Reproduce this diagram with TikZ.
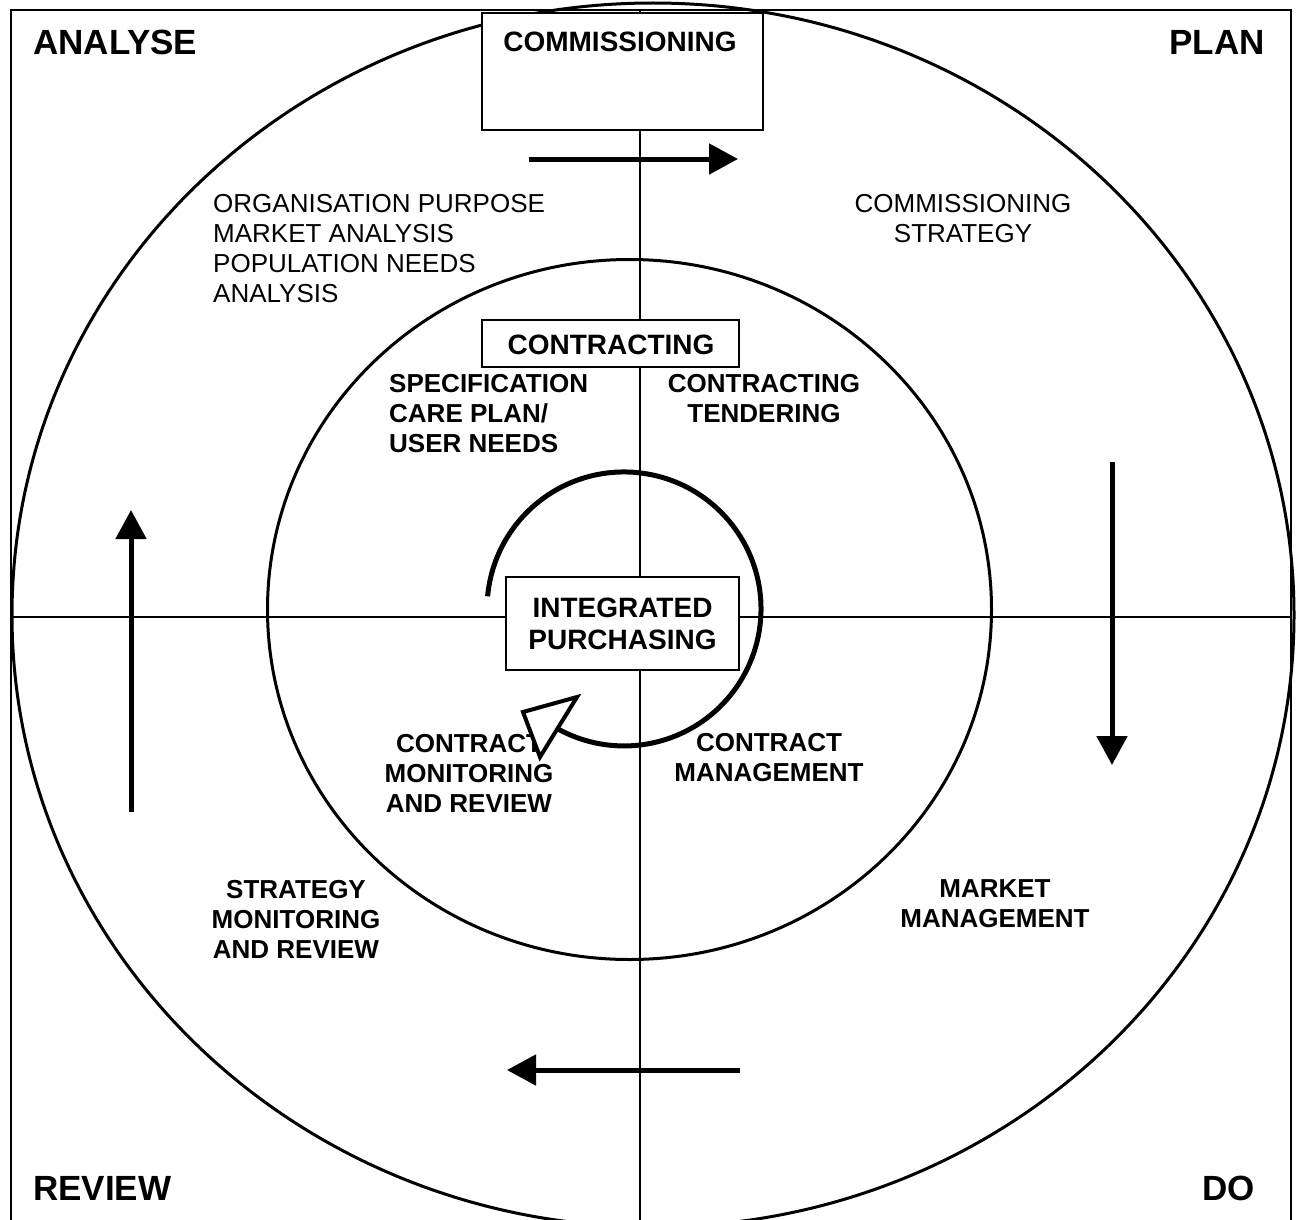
\documentclass[tikz,border=0pt]{standalone}
\usepackage{fontspec}
\setmainfont{Liberation Sans}
\usetikzlibrary{arrows.meta}
\tikzset{
  frame/.style={line width=2pt},
  ring/.style={line width=3pt},
  axis/.style={line width=2.2pt},
  box/.style={draw, line width=2pt, fill=white, inner sep=0pt},
  lbl/.style={font=\fontsize{26}{30}\selectfont, inner sep=0pt},
  blbl/.style={font=\fontsize{26}{30}\selectfont\bfseries, inner sep=0pt},
  ttl/.style={font=\fontsize{28}{32}\selectfont\bfseries, inner sep=0pt},
  corner/.style={font=\fontsize{35}{40}\selectfont\bfseries, inner sep=0pt},
  flow/.style={line width=5pt, -{Triangle[length=29pt,width=30pt]}},
  spiral/.style={line width=5pt},
  openhead/.style={line width=4pt, fill=white, line join=miter},
}
\begin{document}
\begin{tikzpicture}[x=1pt,y=-1pt]
\useasboundingbox (0,0) rectangle (1298,1220);
\clip (0,0) rectangle (1298,1220);
\fill[white] (0,0) rectangle (1298,1220);
% frame
\draw[frame] (11,10) rectangle (1291,1240);
% rings
\draw[ring] (653,615) ellipse [x radius=641, y radius=612];
\draw[ring] (629.5,609.5) ellipse [x radius=362, y radius=350];
% axes
\coordinate (vtop) at (640,10);
\coordinate (vbot) at (640,1240);
\coordinate (hl) at (11,617);
\coordinate (hr) at (1291,617);
\draw[axis] (vtop) -- (vbot);
\draw[axis] (hl) -- (hr);
% boxes
\node[box, minimum width=281pt, minimum height=117pt] (comm) at (622.5,71.5) {};
\node[ttl] (commt) at (620,42) {COMMISSIONING};
\node[box, minimum width=257pt, minimum height=47pt] (contr) at (610.5,343.5) {};
\node[ttl] (contrt) at (611,345) {CONTRACTING};
\node[box, minimum width=233pt, minimum height=93pt, align=center, ttl] (ip) at (622.5,623.5) {INTEGRATED\\PURCHASING};
% corners
\node[corner, anchor=west] (analyse) at (33,42) {ANALYSE};
\node[corner, anchor=east] (plan) at (1265,42) {PLAN};
\node[corner, anchor=west] (review) at (33,1188) {REVIEW};
\node[corner, anchor=east] (do) at (1255,1188) {DO};
% labels
\node[lbl, anchor=west, align=left] (org) at (213,249) {ORGANISATION PURPOSE\\MARKET ANALYSIS\\POPULATION NEEDS\\ANALYSIS};
\node[lbl, align=center] (cstrat) at (963,219) {COMMISSIONING\\STRATEGY};
\node[blbl, anchor=west, align=left] (spec) at (389,414) {SPECIFICATION\\CARE PLAN/\\USER NEEDS};
\node[blbl, align=center] (tend) at (764,399) {CONTRACTING\\TENDERING};
\node[blbl, align=center] (cmr) at (469,773) {CONTRACT\\MONITORING\\AND REVIEW};
\node[blbl, align=center] (cman) at (769,758) {CONTRACT\\MANAGEMENT};
\node[blbl, align=center] (smr) at (296,919) {STRATEGY\\MONITORING\\AND REVIEW};
\node[blbl, align=center] (mman) at (995,904) {MARKET\\MANAGEMENT};
% flow arrows
\coordinate (a1s) at (529,159); \coordinate (a1e) at (738,159);
\coordinate (a2s) at (1112,462); \coordinate (a2e) at (1112,765);
\coordinate (a3s) at (740,1070); \coordinate (a3e) at (507,1070);
\coordinate (a4s) at (131,812); \coordinate (a4e) at (131,510);
\draw[flow] (a1s) -- (a1e);
\draw[flow] (a2s) -- (a2e);
\draw[flow] (a3s) -- (a3e);
\draw[flow] (a4s) -- (a4e);
% spiral arrow
\coordinate (sp0) at (487.6,596.3);
\draw[spiral] (sp0) arc [start angle=185.3, end angle=478.3, radius=137] coordinate (sp1);
\coordinate (hb1) at (577,697);
\coordinate (htip) at (523,712);
\coordinate (hb2) at (540,757);
\draw[openhead] (hb1) -- (htip) -- (hb2) -- cycle;
\end{tikzpicture}
\end{document}
